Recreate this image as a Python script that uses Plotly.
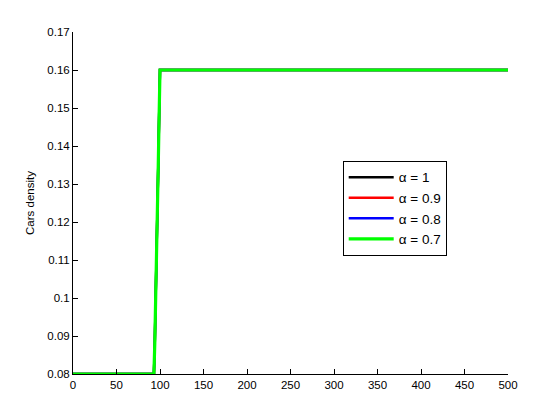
import plotly.graph_objects as go

# time axis and car density (all four alpha runs coincide)
x_vals = [0, 93, 94, 95, 96, 97, 98, 99, 100, 500]
density = [0.08, 0.08, 0.088, 0.098, 0.11, 0.121, 0.135, 0.148, 0.16, 0.16]

alphas = ['1', '0.9', '0.8', '0.7']
colors = ['#000000', '#ff0000', '#0000ff', '#00ff00']

x_ticks = [0, 50, 100, 150, 200, 250, 300, 350, 400, 450, 500]
y_ticks = [0.08, 0.09, 0.1, 0.11, 0.12, 0.13, 0.14, 0.15, 0.16, 0.17]
y_tick_labels = ['0.08', '0.09', '0.1', '0.11', '0.12', '0.13', '0.14', '0.15', '0.16', '0.17']

fig = go.Figure()

for i, (a, c) in enumerate(zip(alphas, colors)):
    # the last (green) run sits on top and hides the others
    fig.add_trace(go.Scatter(
        x=x_vals,
        y=density,
        mode='lines',
        name='α = ' + a,
        line=dict(color=c, width=3.2 if i == len(alphas) - 1 else 2.4),
    ))

axis_style = dict(
    showline=True,
    linecolor='black',
    linewidth=1,
    ticks='inside',
    ticklen=5,
    tickcolor='black',
    showgrid=False,
    zeroline=False,
    tickfont=dict(family='Liberation Sans, Arial', size=11.5, color='black'),
)

# page body adds an 8px offset, so margins are shifted to compensate
fig.update_layout(
    width=560,
    height=420,
    paper_bgcolor='white',
    plot_bgcolor='white',
    font=dict(family='Liberation Sans, Arial', size=12, color='black'),
    margin=dict(l=65, r=60, t=24, b=54),
    xaxis=dict(range=[0, 500], tickvals=x_ticks, **axis_style),
    yaxis=dict(
        range=[0.08, 0.17],
        tickvals=y_ticks,
        ticktext=y_tick_labels,
        title=dict(text='Cars density', standoff=10,
                   font=dict(size=11.5, color='black')),
        **axis_style,
    ),
    legend=dict(
        x=0.62,
        y=0.623,
        xanchor='left',
        yanchor='top',
        bordercolor='black',
        borderwidth=1,
        bgcolor='white',
        itemwidth=45,
        font=dict(size=13.5, color='black'),
    ),
    showlegend=True,
)

fig.write_html("out.html")
